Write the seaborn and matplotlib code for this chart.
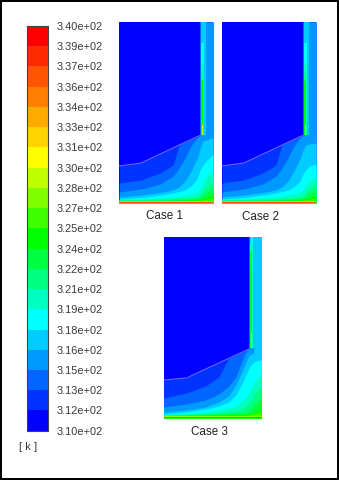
import numpy as np
import pandas as pd
import seaborn as sns
import matplotlib.pyplot as plt
from matplotlib.colors import ListedColormap

sns.set_style("white")
plt.rcParams['font.family'] = ['Liberation Sans', 'DejaVu Sans']

# colour bar, hottest first
temp_labels = ['3.40e+02', '3.39e+02', '3.37e+02', '3.36e+02', '3.34e+02', '3.33e+02', '3.31e+02',
               '3.30e+02', '3.28e+02', '3.27e+02', '3.25e+02', '3.24e+02', '3.22e+02', '3.21e+02',
               '3.19e+02', '3.18e+02', '3.16e+02', '3.15e+02', '3.13e+02', '3.12e+02', '3.10e+02']
band_colors = ['#0000ff', '#0033ff', '#0066ff', '#0099ff', '#00ccff', '#00ffff', '#00ffbf', '#00ff80',
               '#00ff40', '#00ff00', '#40ff00', '#80ff00', '#bfff00', '#ffff00', '#ffd400', '#ffaa00',
               '#ff8000', '#ff5500', '#ff2a00', '#ff0000']

# height of the thin hot layers on the bottom wall (bands 11 to 19), same in every case
floor_heights = [1.6, 1.4, 1.2, 1.0, 0.85, 0.7, 0.55, 0.35, 0.2]

# isotherm heights, one list per band, at the stations x1 / x3
x1 = [0, 22, 41, 54, 60, 66, 72, 78, 81, 81.5, 84, 87, 90, 94]
c1_b1 = [37, 40, 49, 55, 58, 60.7, 63.5, 66.3, 67.5, 181, 181, 181, 181, 181]
c1_b2 = [20, 23, 30, 38, 58, 60.7, 63.5, 66.3, 67.5, 181, 181, 181, 181, 181]
c1_b3 = [11, 14, 19, 27, 35, 45, 57, 65, 67.5, 181, 181, 181, 181, 181]
c1_b4 = [6, 8, 10.5, 13, 16, 22, 32, 44, 54, 56, 62, 63, 64, 65]
c1_b5 = [4, 5.5, 8, 10, 11.5, 13, 17, 24, 33, 34, 38, 42, 45, 48]
c1_b6 = [3.4, 4, 5, 6, 6.8, 8, 9, 11, 14, 15, 21, 26, 29, 31]
c1_b7 = [3, 3.3, 3.8, 4.2, 4.6, 5, 5.5, 6.5, 8, 8.5, 12, 16, 19, 22]
c1_b8 = [2.6, 2.8, 3.1, 3.3, 3.5, 3.7, 4, 4.5, 5.2, 5.5, 7.5, 10, 12.5, 15]
c1_b9 = [2.2, 2.3, 2.5, 2.6, 2.7, 2.9, 3, 3.2, 3.6, 3.8, 4.6, 5.8, 7, 8]
c1_b10 = [1.8, 1.9, 2, 2.1, 2.2, 2.3, 2.4, 2.5, 2.7, 2.8, 3.2, 3.8, 4.4, 5]

c2_b4 = [6, 8, 10.5, 13, 16, 22, 32, 44, 53, 54, 58, 59, 59.5, 60]
c2_b5 = [4, 5.5, 8, 10, 11.5, 13, 16, 22, 29, 30, 33, 36, 38, 39]
c2_b6 = [3.4, 4, 5, 6, 6.8, 8, 9, 10.5, 13, 14, 18, 22, 24, 26]
c2_b7 = [3, 3.3, 3.8, 4.2, 4.6, 5, 5.5, 6.5, 7.5, 8, 11, 14, 17, 19]
c2_b8 = [2.6, 2.8, 3.1, 3.3, 3.5, 3.7, 4, 4.5, 5, 5.2, 6.5, 9, 11, 13]
c2_b9 = [2.2, 2.3, 2.5, 2.6, 2.7, 2.9, 3, 3.2, 3.5, 3.6, 4.2, 5, 6, 7]

x3 = [0, 23, 42, 55, 65, 72, 78, 83, 85, 85.5, 88, 90, 90.5, 94, 97.5]
c3_b1 = [38, 40, 49, 55, 59.6, 63, 65.7, 68, 69, 181, 181, 181, 181, 181, 181]
c3_b2 = [20, 25, 32, 41, 59.6, 63, 65.7, 68, 69, 181, 181, 181, 181, 181, 181]
c3_b3 = [11, 14, 18, 24, 32, 41, 57, 68, 69, 181, 181, 181, 181, 181, 181]
c3_b4 = [6, 8, 11, 16, 22, 33, 46, 58, 62, 63, 64, 65, 181, 181, 181]
c3_b5 = [4, 6, 9, 12, 16, 23, 34, 45, 50, 51, 54, 56, 56.5, 57.5, 58]
c3_b6 = [3.2, 4.5, 6, 8, 10, 12, 17, 22, 26, 26.5, 31, 35, 36, 40, 43]
c3_b7 = [2.8, 3.6, 4.5, 5.5, 6.5, 7, 9, 13, 15, 16, 19, 23, 24, 28, 31]
c3_b8 = [2.4, 3, 3.5, 4, 4.4, 4.7, 5, 6, 7, 7.5, 10, 12.5, 13, 17, 21]
c3_b9 = [2, 2.4, 2.7, 3, 3.2, 3.4, 3.6, 3.8, 4.4, 4.5, 5.2, 6, 6.3, 8, 10]
c3_b10 = [1.8, 2, 2.2, 2.3, 2.5, 2.6, 2.7, 2.9, 3.1, 3.2, 3.6, 4, 4.2, 5, 6]

# hot layer along the vertical wall above the notch: band, x from, x to, height from, height to
wall1 = [(2, 81, 82, 68, 181), (4, 82, 86.5, 68, 181), (5, 82, 85, 68, 160), (6, 82, 84.5, 68, 140),
         (7, 82, 84.2, 68, 130), (9, 82.2, 84, 68, 122), (12, 82.8, 83.6, 68, 78)]
wall3 = [(2, 85, 86.5, 70, 181), (4, 86.5, 98, 70, 181), (5, 87, 89.5, 70, 181), (6, 86.5, 88.8, 70, 175),
         (8, 86.5, 88.5, 70, 166), (9, 86.7, 88.4, 70, 150), (12, 87, 88, 70, 85)]

cases = [
    ('Case 1', x1, [c1_b1, c1_b2, c1_b3, c1_b4, c1_b5, c1_b6, c1_b7, c1_b8, c1_b9, c1_b10], wall1),
    ('Case 2', x1, [c1_b1, c1_b2, c1_b3, c2_b4, c2_b5, c2_b6, c2_b7, c2_b8, c2_b9, c1_b10], wall1),
    ('Case 3', x3, [c3_b1, c3_b2, c3_b3, c3_b4, c3_b5, c3_b6, c3_b7, c3_b8, c3_b9, c3_b10], wall3),
]


W, H = 339, 480
fig = plt.figure(figsize=(W / 100, H / 100), dpi=100, facecolor='white', edgecolor='black', linewidth=1.5)


def px_axes(left, top, right, bottom):
    return fig.add_axes([left / W, 1 - bottom / H, (right - left) / W, (bottom - top) / H])


# colour bar
bar = pd.DataFrame({'band': np.arange(len(band_colors))[::-1]})
ax = px_axes(27.3, 26, 47.7, 430.7)
sns.heatmap(bar, ax=ax, cmap=ListedColormap(band_colors), cbar=False, xticklabels=False,
            vmin=-0.5, vmax=len(band_colors) - 0.5)
ax.yaxis.tick_right()
ax.set_yticks(np.arange(len(temp_labels)))
ax.set_yticklabels(temp_labels, rotation=0, fontsize=7.9, color='#3a3a3a')
ax.tick_params(axis='y', length=0, pad=6.6)
ax.set_xlabel('')
ax.set_ylabel('')
for s in ax.spines.values():
    s.set_visible(True)
    s.set_color('#444444')
    s.set_linewidth(0.8)
fig.text(28 / W, 1 - 447 / H, '[ k ]', fontsize=8, color='#3a3a3a', ha='center', va='center')

# the three contour panels
panel_boxes = [(119.3, 22, 213, 205), (222, 22, 316, 205), (163.5, 237, 261.5, 420)]
label_pos = [(165, 216), (260, 217), (209, 432)]

for (name, xs, curves, wall), box, pos in zip(cases, panel_boxes, label_pos):
    ax = px_axes(*box)
    ax.set_facecolor('#f2f0fc')
    ax.fill_between(xs, 0, 181, color=band_colors[0], lw=0)
    for k, h in enumerate(curves):
        ax.fill_between(xs, 0, h, color=band_colors[k + 1], lw=0)
    for k, h in enumerate(floor_heights):
        ax.fill_between(xs, 0, h, color=band_colors[k + 11], lw=0)
    for band, x0, x_end, h0, h1 in wall:
        ax.fill_between([x0, x_end], h0, h1, color=band_colors[band], lw=0)
    # interface line round the cold zone
    n = next(i for i, v in enumerate(curves[0]) if v == 181)
    sns.lineplot(x=xs[:n], y=curves[0][:n], ax=ax, color='#6a6aff', lw=0.8, sort=False, estimator=None)
    ax.set_xlim(0, xs[-1])
    ax.set_ylim(-2, 181)
    ax.set_xticks([])
    ax.set_yticks([])
    ax.set_xlabel('')
    ax.set_ylabel('')
    for s in ax.spines.values():
        s.set_visible(False)
    fig.text(pos[0] / W, 1 - pos[1] / H, name, fontsize=8.4, color='#222222', ha='center', va='center')

fig.savefig('out.png', dpi=100)
